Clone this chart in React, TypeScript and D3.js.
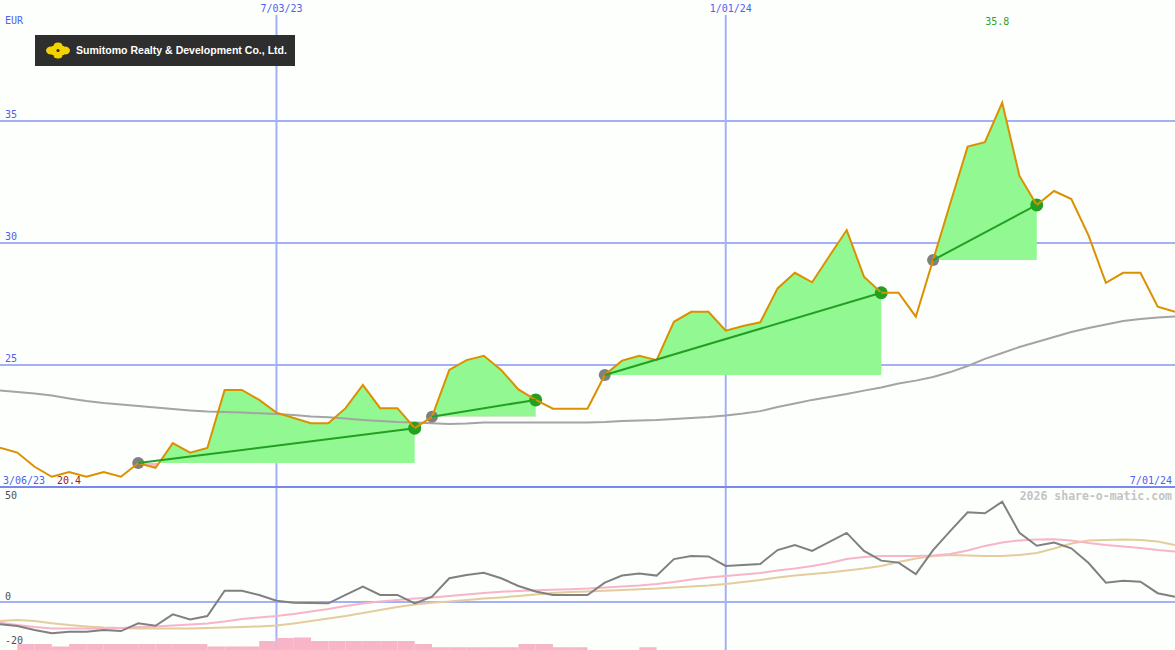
import { scaleLinear, scaleTime, line, area, timeWeek } from "d3";

// weekly closes, EUR, from 3/13/23 to 7/01/24
const START = new Date(2023, 2, 13);
const END = new Date(2024, 6, 1);

const price = [
  21.61, 21.41, 20.83, 20.42, 20.61, 20.42, 20.61, 20.42, 20.98, 20.78,
  21.8, 21.41, 21.6, 23.98, 23.98, 23.57, 23.05, 22.83, 22.61, 22.61,
  23.23, 24.18, 23.23, 23.23, 22.41, 22.88, 24.8, 25.2, 25.38, 24.8,
  24.0, 23.57, 23.21, 23.21, 23.21, 24.59, 25.18, 25.38, 25.2, 26.77,
  27.18, 27.18, 26.41, 26.6, 26.75, 28.14, 28.78, 28.39, 29.47, 30.53,
  28.62, 27.96, 27.96, 26.98, 29.3, 31.64, 33.95, 34.13, 35.75, 32.75,
  31.56, 32.13, 31.8, 30.3, 28.37, 28.78, 28.78, 27.39, 27.18,
];

const movingAvg = [
  23.95, 23.89, 23.83, 23.75, 23.63, 23.52, 23.44, 23.38, 23.32, 23.26,
  23.2, 23.14, 23.09, 23.07, 23.05, 23.02, 22.99, 22.95, 22.89, 22.86,
  22.81, 22.75, 22.7, 22.66, 22.64, 22.61, 22.58, 22.6, 22.64, 22.64,
  22.64, 22.64, 22.64, 22.64, 22.64, 22.66, 22.7, 22.73, 22.75, 22.79,
  22.83, 22.87, 22.93, 23.01, 23.11, 23.28, 23.42, 23.57, 23.69, 23.81,
  23.95, 24.08, 24.24, 24.36, 24.51, 24.71, 24.96, 25.25, 25.49, 25.74,
  25.94, 26.15, 26.35, 26.52, 26.66, 26.8, 26.89, 26.95, 26.99,
];

const momentum = [
  -10.1, -10.9, -12.7, -14.2, -13.5, -13.5, -12.7, -13.2, -9.7, -10.8,
  -5.6, -7.9, -6.4, 5.1, 5.1, 3.2, 0.6, -0.3, -0.5, -0.6,
  3.2, 7.0, 3.2, 3.2, -0.6, 2.4, 10.8, 12.3, 13.3, 10.8,
  7.3, 4.8, 3.2, 3.2, 3.2, 8.8, 12.0, 13.0, 12.0, 19.5,
  20.9, 20.7, 16.4, 16.8, 17.3, 23.6, 25.9, 23.2, 27.3, 31.4,
  23.2, 18.8, 17.9, 12.7, 23.6, 32.3, 40.8, 40.3, 45.6, 31.4,
  25.6, 27.0, 24.4, 17.7, 8.8, 9.7, 9.2, 4.0, 2.4,
];

const signalFast = [
  -9.4, -10.5, -11.4, -12.0, -12.0, -12.0, -12.0, -11.8, -11.4, -11.1,
  -10.7, -10.2, -9.8, -8.9, -7.7, -7.0, -6.4, -5.5, -4.3, -3.2,
  -1.8, -0.7, 0.2, 0.9, 1.6, 2.1, 2.7, 3.4, 4.1, 4.7,
  5.0, 5.3, 5.6, 5.8, 6.1, 6.6, 7.0, 7.5, 8.2, 9.1,
  10.2, 11.1, 11.8, 12.5, 13.2, 14.3, 15.2, 16.4, 17.7, 19.5,
  20.5, 20.9, 20.9, 20.9, 21.1, 21.8, 23.4, 25.5, 27.0, 28.0,
  28.4, 28.5, 28.0, 26.8, 25.9, 25.2, 24.5, 23.6, 22.9,
];

const signalSlow = [
  -8.6, -8.2, -8.6, -9.7, -10.5, -11.1, -11.6, -11.8, -12.0, -12.0,
  -12.0, -12.0, -11.8, -11.6, -11.4, -11.1, -10.7, -9.8, -8.6, -7.5,
  -6.4, -5.0, -3.6, -2.3, -1.1, -0.3, 0.2, 0.9, 1.6, 2.1,
  2.7, 3.4, 4.1, 4.5, 4.8, 5.1, 5.5, 5.8, 6.1, 6.6,
  7.0, 7.5, 8.2, 9.1, 10.0, 11.1, 12.0, 12.7, 13.4, 14.3,
  15.2, 16.4, 18.2, 19.8, 20.9, 21.4, 21.1, 20.9, 20.9, 21.4,
  22.3, 24.3, 26.6, 28.0, 28.2, 28.4, 28.2, 27.5, 25.9,
];

const volume = [
  0.2, 1.6, 1.6, 1.1, 1.6, 1.6, 1.6, 1.6, 1.6, 1.6,
  1.6, 1.6, 1.1, 1.1, 1.1, 2.2, 2.8, 2.9, 2.2, 2.2,
  2.2, 2.2, 2.2, 2.2, 1.6, 0.95, 0.95, 0.95, 0.95, 0.95,
  1.6, 1.6, 0.95, 0.95, 0.2, 0.2, 0.2, 0.95, 0.2, 0.2,
  0.2, 0.2, 0.2, 0.2, 0.2, 0.2, 0.2, 0.2, 0.2, 0.2,
  0.2, 0.2, 0.2, 0.2, 0.2, 0.2, 0.2, 0.2, 0.2, 0.2,
  0.2, 0.2, 0.2, 0.2, 0.2, 0.2, 0.2, 0.2, 0.2,
];

// entry / exit week indexes
const trades = [
  { entry: 8, exit: 24 },
  { entry: 25, exit: 31 },
  { entry: 35, exit: 51 },
  { entry: 54, exit: 60 },
];

const priceTicks = [35, 30, 25];
const oscTicks = [50, 0, -20];
const dateTicks = [
  { date: new Date(2023, 6, 3), label: "7/03/23" },
  { date: new Date(2024, 0, 1), label: "1/01/24" },
];

const W = 1175;
const H = 650;
const BLUE = "#5060f0";
const GRID = "#a4b0f4";
const MONO = "'DejaVu Sans Mono', monospace";

export default function App() {
  const dates = price.map((_, i) => timeWeek.offset(START, i));
  const x = scaleTime().domain([START, END]).range([0, W]);
  const y = scaleLinear().domain([20, 35]).range([487, 121]);
  const yo = scaleLinear().domain([-20, 50]).range([646, 492]);
  const yv = scaleLinear().domain([0, 3]).range([652, 637]);

  const priceLine = line<number>()
    .x((_, i) => x(dates[i]))
    .y((d) => y(d));
  const oscLine = line<number>()
    .x((_, i) => x(dates[i]))
    .y((d) => yo(d));

  const maxIdx = price.indexOf(Math.max(...price));
  const minIdx = price.indexOf(Math.min(...price));

  return (
    <svg
      width={W}
      height={H}
      style={{ position: "fixed", left: 0, top: 0, background: "#fcfffc" }}
    >
      <defs>
        {trades.map((t, k) => (
          <g key={k}>
            <clipPath id={`above${k}`}>
              <rect x={0} y={0} width={W} height={y(price[t.entry])} />
            </clipPath>
            <clipPath id={`below${k}`}>
              <rect x={0} y={y(price[t.entry])} width={W} height={H} />
            </clipPath>
          </g>
        ))}
      </defs>

      {/* grid */}
      {priceTicks.map((v) => (
        <g key={v}>
          <line x1={0} x2={W} y1={y(v)} y2={y(v)} stroke={GRID} strokeWidth={2} />
          <text x={5} y={y(v) - 3} fill={BLUE} fontSize={10} fontFamily={MONO}>
            {v}
          </text>
        </g>
      ))}
      {dateTicks.map((d) => (
        <g key={d.label}>
          <line
            x1={x(d.date)}
            x2={x(d.date)}
            y1={15}
            y2={H}
            stroke={GRID}
            strokeWidth={2}
          />
          <text
            x={x(d.date) + 5}
            y={12}
            fill={BLUE}
            fontSize={10}
            fontFamily={MONO}
            textAnchor="middle"
          >
            {d.label}
          </text>
        </g>
      ))}
      <line x1={0} x2={W} y1={yo(0)} y2={yo(0)} stroke={GRID} strokeWidth={2} />
      <line x1={0} x2={W} y1={487} y2={487} stroke="#7888ec" strokeWidth={2} />

      <text x={5} y={24} fill={BLUE} fontSize={10} fontFamily={MONO}>
        EUR
      </text>

      {/* trade fills */}
      {trades.map((t, k) => {
        const seg = price.slice(t.entry, t.exit + 1);
        const base = y(price[t.entry]);
        const a = area<number>()
          .x((_, i) => x(dates[t.entry + i]))
          .y0(base)
          .y1((d) => y(d));
        return (
          <g key={k}>
            <path d={a(seg) ?? ""} fill="#92f892" clipPath={`url(#above${k})`} />
            <path d={a(seg) ?? ""} fill="#f8b4c4" clipPath={`url(#below${k})`} />
          </g>
        );
      })}

      {/* volume bars */}
      {volume.map((v, i) =>
        i < dates.length - 1 ? (
          <rect
            key={i}
            x={x(dates[i])}
            y={yv(v)}
            width={x(dates[i + 1]) - x(dates[i])}
            height={yv(0) - yv(v)}
            fill="#f8b4c8"
          />
        ) : null,
      )}

      {/* oscillator */}
      <path d={oscLine(signalSlow) ?? ""} fill="none" stroke="#e4cc9c" strokeWidth={2} />
      <path d={oscLine(signalFast) ?? ""} fill="none" stroke="#f8b4c8" strokeWidth={2} />
      <path d={oscLine(momentum) ?? ""} fill="none" stroke="#808080" strokeWidth={2} />
      {oscTicks.map((v, i) => (
        <text
          key={v}
          x={5}
          y={i === 0 ? 499 : yo(v) - 2}
          fill="#505050"
          fontSize={10}
          fontFamily={MONO}
        >
          {v}
        </text>
      ))}

      {/* moving average + price */}
      <path d={priceLine(movingAvg) ?? ""} fill="none" stroke="#a4a4a4" strokeWidth={2} />
      {trades.map((t, k) => (
        <g key={k}>
          <circle cx={x(dates[t.entry])} cy={y(price[t.entry])} r={6} fill="#808080" />
          <circle cx={x(dates[t.exit])} cy={y(price[t.exit])} r={6.5} fill="#22a022" />
        </g>
      ))}
      <path d={priceLine(price) ?? ""} fill="none" stroke="#dc9000" strokeWidth={2} />
      {trades.map((t, k) => (
        <line
          key={k}
          x1={x(dates[t.entry])}
          y1={y(price[t.entry])}
          x2={x(dates[t.exit])}
          y2={y(price[t.exit])}
          stroke="#22a022"
          strokeWidth={2}
        />
      ))}

      {/* labels */}
      <text
        x={x(dates[maxIdx]) - 5}
        y={25}
        fill="#30a030"
        fontSize={10}
        fontFamily={MONO}
        textAnchor="middle"
      >
        {price[maxIdx].toFixed(1)}
      </text>
      <text x={3} y={484} fill={BLUE} fontSize={10} fontFamily={MONO}>
        3/06/23
      </text>
      <text x={57} y={484} fill="#a02020" fontSize={10} fontFamily={MONO}>
        {price[minIdx].toFixed(1)}
      </text>
      <text x={1172} y={484} fill={BLUE} fontSize={10} fontFamily={MONO} textAnchor="end">
        7/01/24
      </text>
      <text
        x={1172}
        y={500}
        fill="#c4c4c4"
        fontSize={11.5}
        fontWeight="bold"
        fontFamily={MONO}
        textAnchor="end"
      >
        2026 share-o-matic.com
      </text>

      {/* logo */}
      <rect x={35} y={35} width={260} height={31} fill="#2e2e2e" />
      <g fill="#f4d200">
        <ellipse cx={51} cy={50.5} rx={5} ry={4} />
        <ellipse cx={65} cy={50.5} rx={5} ry={4} />
        <ellipse cx={58} cy={46} rx={4.5} ry={3.5} />
        <ellipse cx={58} cy={55} rx={4.5} ry={3.5} />
        <rect x={52} y={46} width={12} height={9} />
      </g>
      <circle cx={58} cy={50.5} r={1.6} fill="#2e2e2e" />
      <text
        x={76}
        y={54}
        fill="#ffffff"
        fontSize={10.5}
        fontWeight="bold"
        fontFamily="'Liberation Sans', Arial, sans-serif"
        textLength={211}
        lengthAdjust="spacingAndGlyphs"
      >
        Sumitomo Realty &amp; Development Co., Ltd.
      </text>
    </svg>
  );
}
